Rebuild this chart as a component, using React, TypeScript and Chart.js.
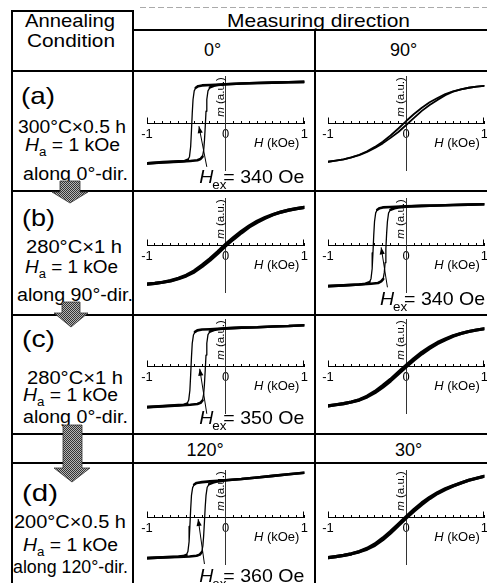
import React, { useEffect, useRef } from 'react';
import { Chart, registerables } from 'chart.js';

Chart.register(...registerables);

const FONT = "'Liberation Sans', Arial, Helvetica, sans-serif";

// ---------------- data ----------------
const H_GRID = [-1.0, -0.9, -0.8, -0.7, -0.6, -0.5, -0.4, -0.3, -0.2, -0.1, 0.0, 0.1, 0.2, 0.3, 0.4, 0.5, 0.6, 0.7, 0.8, 0.9, 1.0];
const X_MAJOR_TICKS = [-1, 0, 1];

// (a) measured along 0°  (square loop, Hex = 340 Oe)
const A0_H_DOWN = [1.0, 0.8, 0.6, 0.4, 0.2, 0.0, -0.2, -0.3, -0.35, -0.38, -0.40, -0.415, -0.425, -0.435, -0.445, -0.46, -0.48, -0.52, -0.6, -0.8, -1.0];
const A0_M_DOWN = [1.05, 1.04, 1.03, 1.02, 1.01, 0.99, 0.97, 0.96, 0.94, 0.90, 0.82, 0.60, 0.25, -0.20, -0.60, -0.86, -0.94, -0.97, -0.98, -1.00, -1.03];
const A0_H_UP = [-1.0, -0.8, -0.6, -0.45, -0.36, -0.32, -0.295, -0.28, -0.27, -0.26, -0.25, -0.24, -0.225, -0.2, -0.15, -0.1, 0.0, 0.2, 0.4, 0.6, 0.8, 1.0];
const A0_M_UP = [-1.03, -1.01, -0.99, -0.97, -0.95, -0.92, -0.86, -0.70, -0.45, -0.10, 0.30, 0.60, 0.82, 0.91, 0.95, 0.97, 0.99, 1.01, 1.02, 1.03, 1.04, 1.05];
const A0_HEX = 340;

// (a) measured along 90°  (narrow S loop)
const A90_M_UP = [-0.99, -0.96, -0.93, -0.88, -0.82, -0.74, -0.64, -0.52, -0.38, -0.23, -0.05, 0.13, 0.31, 0.46, 0.59, 0.71, 0.80, 0.86, 0.90, 0.93, 0.95];
const A90_M_DOWN = [-0.99, -0.96, -0.93, -0.88, -0.81, -0.72, -0.61, -0.48, -0.32, -0.14, 0.05, 0.23, 0.39, 0.53, 0.64, 0.74, 0.81, 0.86, 0.90, 0.93, 0.95];

// (b) measured along 0°  (S curve)
const B0_M_UP = [-1.00, -0.98, -0.95, -0.92, -0.86, -0.79, -0.69, -0.55, -0.39, -0.21, -0.02, 0.15, 0.31, 0.46, 0.58, 0.68, 0.77, 0.84, 0.89, 0.93, 0.96];
const B0_M_DOWN = [-1.00, -0.98, -0.95, -0.91, -0.85, -0.77, -0.66, -0.51, -0.35, -0.17, 0.02, 0.19, 0.35, 0.49, 0.61, 0.70, 0.78, 0.84, 0.89, 0.93, 0.96];

// (b) measured along 90°  (square loop, Hex = 340 Oe)
const B90_H_DOWN = [1.0, 0.8, 0.6, 0.4, 0.2, 0.0, -0.2, -0.3, -0.34, -0.37, -0.39, -0.405, -0.415, -0.425, -0.435, -0.45, -0.47, -0.52, -0.6, -0.8, -1.0];
const B90_M_DOWN = [1.04, 1.03, 1.02, 1.01, 1.00, 0.99, 0.97, 0.96, 0.94, 0.90, 0.82, 0.60, 0.25, -0.20, -0.60, -0.86, -0.95, -0.99, -1.01, -1.03, -1.05];
const B90_H_UP = [-1.0, -0.8, -0.6, -0.45, -0.36, -0.32, -0.295, -0.28, -0.27, -0.26, -0.25, -0.24, -0.225, -0.2, -0.15, -0.1, 0.0, 0.2, 0.4, 0.6, 0.8, 1.0];
const B90_M_UP = [-1.05, -1.03, -1.01, -0.99, -0.97, -0.93, -0.87, -0.70, -0.45, -0.10, 0.30, 0.60, 0.82, 0.90, 0.94, 0.96, 0.98, 1.00, 1.01, 1.02, 1.03, 1.04];
const B90_HEX = 340;

// (c) measured along 0°  (square loop, Hex = 350 Oe)
const C0_H_DOWN = [1.0, 0.8, 0.6, 0.4, 0.2, 0.0, -0.2, -0.3, -0.36, -0.39, -0.41, -0.425, -0.435, -0.445, -0.455, -0.47, -0.49, -0.53, -0.6, -0.8, -1.0];
const C0_M_DOWN = [1.04, 1.02, 1.01, 0.99, 0.98, 0.96, 0.94, 0.93, 0.91, 0.87, 0.79, 0.58, 0.22, -0.22, -0.62, -0.87, -0.96, -0.99, -1.00, -1.02, -1.05];
const C0_H_UP = [-1.0, -0.8, -0.6, -0.45, -0.36, -0.32, -0.295, -0.28, -0.27, -0.26, -0.25, -0.24, -0.225, -0.2, -0.15, -0.1, 0.0, 0.2, 0.4, 0.6, 0.8, 1.0];
const C0_M_UP = [-1.05, -1.03, -1.01, -0.99, -0.97, -0.94, -0.88, -0.72, -0.46, -0.10, 0.28, 0.58, 0.80, 0.88, 0.92, 0.94, 0.96, 0.98, 0.99, 1.01, 1.02, 1.04];
const C0_HEX = 350;

// (c) measured along 90°  (S curve)
const C90_M_UP = [-1.02, -0.99, -0.96, -0.92, -0.87, -0.79, -0.68, -0.54, -0.38, -0.20, -0.02, 0.15, 0.31, 0.45, 0.57, 0.67, 0.76, 0.83, 0.88, 0.92, 0.95];
const C90_M_DOWN = [-1.02, -0.99, -0.96, -0.92, -0.86, -0.77, -0.65, -0.50, -0.34, -0.16, 0.02, 0.19, 0.35, 0.48, 0.60, 0.69, 0.77, 0.83, 0.88, 0.92, 0.95];

// (d) measured along 120°  (square loop, Hex = 360 Oe)
const D120_H_DOWN = [1.0, 0.8, 0.6, 0.4, 0.2, 0.0, -0.2, -0.3, -0.37, -0.40, -0.42, -0.435, -0.445, -0.455, -0.465, -0.48, -0.5, -0.54, -0.6, -0.8, -1.0];
const D120_M_DOWN = [1.13, 1.09, 1.05, 1.01, 0.97, 0.94, 0.91, 0.89, 0.87, 0.83, 0.75, 0.55, 0.20, -0.24, -0.63, -0.88, -0.97, -1.00, -1.01, -1.03, -1.05];
const D120_H_UP = [-1.0, -0.8, -0.6, -0.46, -0.37, -0.33, -0.305, -0.29, -0.28, -0.27, -0.26, -0.25, -0.235, -0.21, -0.16, -0.1, 0.0, 0.2, 0.4, 0.6, 0.8, 1.0];
const D120_M_UP = [-1.05, -1.03, -1.02, -1.01, -0.99, -0.96, -0.90, -0.74, -0.48, -0.12, 0.26, 0.55, 0.76, 0.84, 0.88, 0.91, 0.94, 0.97, 1.01, 1.05, 1.09, 1.13];
const D120_HEX = 360;

// (d) measured along 30°  (S curve)
const D30_M_UP = [-1.04, -1.01, -0.98, -0.94, -0.89, -0.82, -0.72, -0.58, -0.41, -0.22, -0.03, 0.15, 0.32, 0.47, 0.60, 0.70, 0.79, 0.87, 0.94, 0.99, 1.04];
const D30_M_DOWN = [-1.04, -1.01, -0.98, -0.94, -0.88, -0.80, -0.69, -0.54, -0.37, -0.18, 0.01, 0.19, 0.36, 0.50, 0.62, 0.72, 0.80, 0.87, 0.94, 0.99, 1.04];

// table texts
const ROW_IDS = ['(a)', '(b)', '(c)', '(d)'];
const ANNEAL = ['300°C×0.5 h', '280°C×1 h', '280°C×1 h', '200°C×0.5 h'];
const FIELD_DIR = ['along 0°-dir.', 'along 90°-dir.', 'along 0°-dir.', 'along 120°-dir.'];
const DIRS_TOP = ['0°', '90°'];
const DIRS_BOTTOM = ['120°', '30°'];

// ---------------- layout ----------------
const COLS = [
  { x: 133, w: 182, padL: 14, padR: 10 },
  { x: 315, w: 180, padL: 13, padR: 9 },
];
const ROWS = [
  { y: 70, h: 121, padT: 6, padB: 21 },
  { y: 191, h: 124, padT: 7, padB: 23 },
  { y: 315, h: 119, padT: 4, padB: 21 },
  { y: 463, h: 120, padT: 7, padB: 19 },
];

type Branch = { H: number[]; m: number[] };
type Hex = { value: number; tail: [number, number]; head: [number, number]; right: number; base: number };
type Panel = { id: string; row: number; col: number; square: boolean; width: number; branches: Branch[]; hex?: Hex };

const PANELS: Panel[] = [
  { id: 'a0', row: 0, col: 0, square: true, width: 2.6, branches: [{ H: A0_H_DOWN, m: A0_M_DOWN }, { H: A0_H_UP, m: A0_M_UP }],
    hex: { value: A0_HEX, tail: [-0.24, -1.12], head: [-0.34, -0.08], right: 1.0, base: -1.53 } },
  { id: 'a90', row: 0, col: 1, square: false, width: 1.8, branches: [{ H: H_GRID, m: A90_M_DOWN }, { H: H_GRID, m: A90_M_UP }] },
  { id: 'b0', row: 1, col: 0, square: false, width: 3.2, branches: [{ H: H_GRID, m: B0_M_DOWN }, { H: H_GRID, m: B0_M_UP }] },
  { id: 'b90', row: 1, col: 1, square: true, width: 2.6, branches: [{ H: B90_H_DOWN, m: B90_M_DOWN }, { H: B90_H_UP, m: B90_M_UP }],
    hex: { value: B90_HEX, tail: [-0.24, -1.08], head: [-0.32, -0.06], right: 1.01, base: -1.53 } },
  { id: 'c0', row: 2, col: 0, square: true, width: 2.6, branches: [{ H: C0_H_DOWN, m: C0_M_DOWN }, { H: C0_H_UP, m: C0_M_UP }],
    hex: { value: C0_HEX, tail: [-0.24, -1.22], head: [-0.33, -0.07], right: 1.0, base: -1.49 } },
  { id: 'c90', row: 2, col: 1, square: false, width: 3.2, branches: [{ H: H_GRID, m: C90_M_DOWN }, { H: H_GRID, m: C90_M_UP }] },
  { id: 'd120', row: 3, col: 0, square: true, width: 2.6, branches: [{ H: D120_H_DOWN, m: D120_M_DOWN }, { H: D120_H_UP, m: D120_M_UP }],
    hex: { value: D120_HEX, tail: [-0.27, -1.2], head: [-0.35, -0.05], right: 1.0, base: -1.66 } },
  { id: 'd30', row: 3, col: 1, square: false, width: 3.2, branches: [{ H: H_GRID, m: D30_M_DOWN }, { H: H_GRID, m: D30_M_UP }] },
];

// ---------------- canvas helpers ----------------
type Run = { t: string; italic?: boolean; size?: number; dx?: number; dy?: number };

function runsWidth(ctx: CanvasRenderingContext2D, runs: Run[], size: number) {
  let w = 0;
  for (const r of runs) {
    ctx.font = `${r.italic ? 'italic ' : ''}${r.size ?? size}px ${FONT}`;
    w += ctx.measureText(r.t).width + (r.dx || 0);
  }
  return w;
}

function drawRuns(ctx: CanvasRenderingContext2D, runs: Run[], size: number) {
  let cx = 0;
  for (const r of runs) {
    ctx.font = `${r.italic ? 'italic ' : ''}${r.size ?? size}px ${FONT}`;
    cx += r.dx || 0;
    ctx.fillText(r.t, cx, r.dy || 0);
    cx += ctx.measureText(r.t).width;
  }
}

const decorPlugin = {
  id: 'decor',
  afterDraw(chart: any, _args: any, opts: any) {
    const ctx: CanvasRenderingContext2D = chart.ctx;
    const xs = chart.scales.x;
    const ys = chart.scales.y;
    const px = (v: number) => xs.getPixelForValue(v);
    const py = (v: number) => ys.getPixelForValue(v);
    ctx.save();
    ctx.fillStyle = '#000';
    ctx.strokeStyle = '#000';
    ctx.textAlign = 'left';
    ctx.textBaseline = 'alphabetic';

    // taller end ticks
    ctx.lineWidth = 1;
    const y0 = Math.round(py(0)) + 0.5;
    for (const v of [-1, 1]) {
      const X = Math.round(px(v)) + (v < 0 ? 0.5 : -0.5);
      ctx.beginPath();
      ctx.moveTo(X, y0);
      ctx.lineTo(X, y0 - 6);
      ctx.stroke();
    }

    // H (kOe)
    const hRuns: Run[] = [{ t: 'H', italic: true }, { t: ' (kOe)' }];
    ctx.save();
    ctx.translate(px(opts.hLabel[0]), py(opts.hLabel[1]));
    ctx.scale(1.08, 1);
    drawRuns(ctx, hRuns, 12);
    ctx.restore();

    // m (a.u.)
    const mRuns: Run[] = [{ t: 'm', italic: true }, { t: ' (a.u.)' }];
    const mw = runsWidth(ctx, mRuns, 11.5);
    ctx.save();
    ctx.translate(px(0) - 2, py(opts.mTop));
    ctx.rotate(-Math.PI / 2);
    ctx.translate(-mw, 0);
    drawRuns(ctx, mRuns, 11.5);
    ctx.restore();

    // Hex annotation
    const hex = opts.hex as Hex | undefined;
    if (hex) {
      const tx = px(hex.tail[0]), ty = py(hex.tail[1]);
      const hx = px(hex.head[0]), hy = py(hex.head[1]);
      ctx.lineWidth = 1;
      ctx.beginPath();
      ctx.moveTo(tx, ty);
      ctx.lineTo(hx, hy);
      ctx.stroke();
      const ang = Math.atan2(hy - ty, hx - tx);
      const L = 7, W = 2.6;
      ctx.beginPath();
      ctx.moveTo(hx, hy);
      ctx.lineTo(hx - L * Math.cos(ang) + W * Math.sin(ang), hy - L * Math.sin(ang) - W * Math.cos(ang));
      ctx.lineTo(hx - L * Math.cos(ang) - W * Math.sin(ang), hy - L * Math.sin(ang) + W * Math.cos(ang));
      ctx.closePath();
      ctx.fill();

      const runs: Run[] = [
        { t: 'H', italic: true },
        { t: 'ex', size: 13, dx: -1, dy: 6 },
        { t: `= ${hex.value} Oe`, dx: -3 },
      ];
      const stretch = 1.03;
      const w = runsWidth(ctx, runs, 19) * stretch;
      ctx.save();
      ctx.translate(px(hex.right) - w, py(hex.base));
      ctx.scale(stretch, 1);
      drawRuns(ctx, runs, 19);
      ctx.restore();
    }
    ctx.restore();
  },
};

function buildConfig(p: Panel): any {
  const col = COLS[p.col];
  const row = ROWS[p.row];
  return {
    type: 'scatter',
    data: {
      datasets: p.branches.map((b) => ({
        data: b.H.map((h, i) => ({ x: h, y: b.m[i] })),
        showLine: true,
        pointRadius: 0,
        borderColor: '#000',
        borderWidth: p.width,
        tension: 0,
        fill: false,
        borderJoinStyle: 'round',
        borderCapStyle: 'round',
        segment: p.square
          ? {
              borderWidth: (c: any) =>
                Math.abs(c.p1.parsed.y - c.p0.parsed.y) > 2.5 * Math.abs(c.p1.parsed.x - c.p0.parsed.x) ? 1.3 : p.width,
            }
          : undefined,
      })),
    },
    options: {
      animation: false,
      responsive: false,
      events: [],
      layout: { padding: { left: col.padL, right: col.padR, top: row.padT, bottom: row.padB } },
      plugins: {
        legend: { display: false },
        tooltip: { enabled: false },
        title: { display: false },
        decor: { hLabel: [0.36, -0.62], mTop: 1.17, hex: p.hex },
      },
      scales: {
        x: {
          type: 'linear',
          min: -1,
          max: 1,
          position: { y: 0 },
          afterFit: (s: any) => { s.height = 0; },
          grid: { display: true, drawOnChartArea: false, drawTicks: true, tickLength: -3, tickColor: '#000', tickWidth: 1 },
          border: { display: true, color: '#000', width: 1 },
          ticks: {
            stepSize: 0.1,
            autoSkip: false,
            maxRotation: 0,
            padding: 7,
            color: '#000',
            font: { size: 13, family: FONT },
            callback: (v: number) => {
              const r = Math.round(v);
              return Math.abs(v - r) < 1e-6 && X_MAJOR_TICKS.includes(r) ? String(r) : '';
            },
          },
        },
        y: {
          type: 'linear',
          min: -1.2,
          max: 1.2,
          position: { x: 0 },
          afterFit: (s: any) => { s.width = 0; },
          grid: { display: false },
          ticks: { display: false },
          border: { display: true, color: '#333', width: 1 },
        },
      },
    },
    plugins: [decorPlugin],
  };
}

function LoopPanel({ p }: { p: Panel }) {
  const ref = useRef<HTMLCanvasElement>(null);
  const col = COLS[p.col];
  const row = ROWS[p.row];
  useEffect(() => {
    if (!ref.current) return;
    const chart = new Chart(ref.current, buildConfig(p));
    return () => chart.destroy();
  }, [p]);
  return (
    <canvas
      ref={ref}
      width={col.w}
      height={row.h}
      style={{ position: 'absolute', left: col.x, top: row.y, width: col.w, height: row.h }}
    />
  );
}

// ---------------- table (svg) ----------------
const ROW_TEXT = [
  { id: [21, 104, 34], l2: [18, 132.5, 108], l3: [25, 150.5, 95], l4: [23, 180, 105] },
  { id: [22, 226, 33], l2: [26, 253, 96], l3: [25, 273, 93], l4: [17, 301, 116] },
  { id: [22, 347, 33], l2: [27, 384, 96], l3: [23, 401, 95], l4: [23, 423, 105] },
  { id: [22, 501, 36], l2: [14, 528, 112], l3: [23, 551, 95], l4: [13, 573, 115] },
];

const ARROWS = [
  '60,181 80,181 80,192 88,192 70,203 52,192 60,192',
  '62,302 80,302 80,313 88,313 71,327 54,313 62,313',
  '63,425 82,425 82,468 90,468 72,482 54,468 63,468',
];

const H_LINES = [
  { x: 11, y: 10, w: 123 },
  { x: 132, y: 29, w: 360 },
  { x: 11, y: 70, w: 480 },
  { x: 11, y: 190, w: 480 },
  { x: 11, y: 314, w: 480 },
  { x: 11, y: 433, w: 480 },
  { x: 11, y: 462, w: 480 },
];
const V_LINES = [
  { x: 11, y: 10, h: 580 },
  { x: 132, y: 10, h: 580 },
  { x: 314, y: 29, h: 560 },
];

function TableSvg() {
  const txt = { fontFamily: FONT, fill: '#000' } as const;
  return (
    <svg width={487} height={583} style={{ position: 'absolute', left: 0, top: 0 }}>
      <defs>
        <pattern id="dots" width="2" height="2" patternUnits="userSpaceOnUse">
          <rect width="2" height="2" fill="#b4b4b4" />
          <rect width="1" height="1" fill="#333" />
          <rect x="1" y="1" width="1" height="1" fill="#333" />
        </pattern>
      </defs>
      <line x1={140} y1={7.5} x2={487} y2={7.5} stroke="#aaa" strokeWidth={1} strokeDasharray="6 3" />
      {H_LINES.map((l, i) => (
        <rect key={'h' + i} x={l.x} y={l.y} width={l.w} height={2} fill="#000" />
      ))}
      {V_LINES.map((l, i) => (
        <rect key={'v' + i} x={l.x} y={l.y} width={2} height={l.h} fill="#000" />
      ))}

      <text {...txt} x={25} y={26.5} fontSize={19} textLength={90} lengthAdjust="spacingAndGlyphs">Annealing</text>
      <text {...txt} x={27} y={46.5} fontSize={19} textLength={88} lengthAdjust="spacingAndGlyphs">Condition</text>
      <text {...txt} x={227} y={26.5} fontSize={19} textLength={183} lengthAdjust="spacingAndGlyphs">Measuring direction</text>
      <text {...txt} x={212.5} y={55.5} fontSize={18} textAnchor="middle">{DIRS_TOP[0]}</text>
      <text {...txt} x={403.5} y={55.5} fontSize={18} textAnchor="middle">{DIRS_TOP[1]}</text>
      <text {...txt} x={205} y={456} fontSize={18} textAnchor="middle">{DIRS_BOTTOM[0]}</text>
      <text {...txt} x={408.5} y={456} fontSize={18} textAnchor="middle">{DIRS_BOTTOM[1]}</text>

      {ROW_TEXT.map((r, i) => (
        <g key={'rt' + i}>
          <text {...txt} x={r.id[0]} y={r.id[1]} fontSize={24} textLength={r.id[2]} lengthAdjust="spacingAndGlyphs">{ROW_IDS[i]}</text>
          <text {...txt} x={r.l2[0]} y={r.l2[1]} fontSize={17.5} textLength={r.l2[2]} lengthAdjust="spacingAndGlyphs">{ANNEAL[i]}</text>
          <text {...txt} x={r.l3[0]} y={r.l3[1]} fontSize={17.5} textLength={r.l3[2]} lengthAdjust="spacingAndGlyphs">
            <tspan fontStyle="italic">H</tspan>
            <tspan fontSize={12} dy={5}>a</tspan>
            <tspan dy={-5}>{' = 1 kOe'}</tspan>
          </text>
          <text {...txt} x={r.l4[0]} y={r.l4[1]} fontSize={17.5} textLength={r.l4[2]} lengthAdjust="spacingAndGlyphs">{FIELD_DIR[i]}</text>
        </g>
      ))}

      {ARROWS.map((pts, i) => (
        <polygon key={'ar' + i} points={pts} fill="url(#dots)" stroke="#333" strokeWidth={0.8} />
      ))}
    </svg>
  );
}

export default function App() {
  return (
    <div
      style={{
        position: 'absolute',
        left: 0,
        top: 0,
        width: 487,
        height: 583,
        overflow: 'hidden',
        background: '#fff',
        fontFamily: FONT,
      }}
    >
      <TableSvg />
      {PANELS.map((p) => (
        <LoopPanel key={p.id} p={p} />
      ))}
    </div>
  );
}
